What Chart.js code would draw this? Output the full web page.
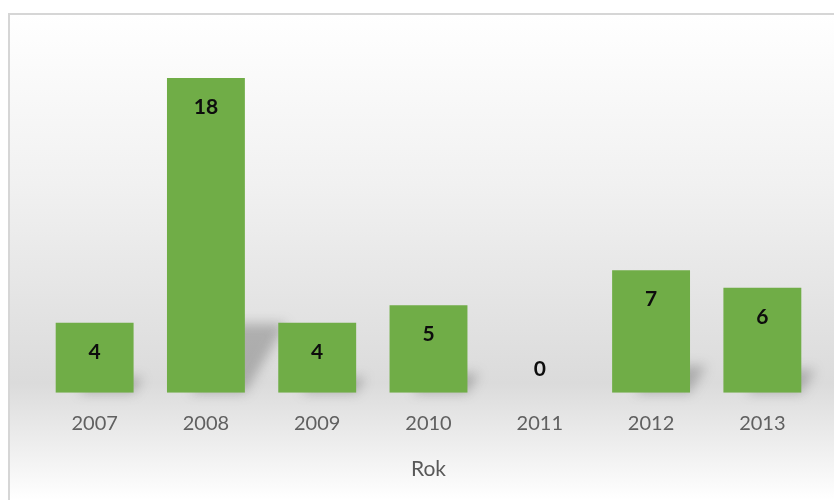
<!DOCTYPE html>
<html>
<head>
<meta charset="utf-8">
<script src="https://cdn.jsdelivr.net/npm/chart.js@4"></script>
<style>
  html, body { margin: 0; padding: 0; background: #fff; overflow: hidden; }
  #wrap { position: relative; width: 834px; height: 500px; }
</style>
</head>
<body>
<div id="wrap"><canvas id="chart"></canvas></div>
<script>
// Data
const years = ['2007', '2008', '2009', '2010', '2011', '2012', '2013'];
const counts = [4, 18, 4, 5, 0, 7, 6];
const axisTitle = 'Rok';

const FONT = 'Lato, "Open Sans", sans-serif';

// Grey gradient backdrop with the light frame at top / left
const backdrop = {
    id: 'backdrop',
    beforeDraw(chart) {
        const ctx = chart.ctx;
        const w = chart.width, h = chart.height;
        ctx.save();
        ctx.fillStyle = '#ffffff';
        ctx.fillRect(0, 0, w, h);
        const g = ctx.createLinearGradient(0, 14, 0, h);
        g.addColorStop(0, '#ffffff');
        g.addColorStop(0.35, '#f1f1f1');
        g.addColorStop(0.76, '#dbdbdb');
        g.addColorStop(1, '#ffffff');
        ctx.fillStyle = g;
        ctx.fillRect(9, 14, w - 9, h - 14);
        ctx.fillStyle = '#d6d6d6';
        ctx.fillRect(8, 13, w - 8, 2);
        ctx.fillRect(8, 13, 2, h - 13);
        ctx.restore();
    }
};

// soft floor shadow behind each bar, falling up and to the right
const barShadows = {
    id: 'barShadows',
    beforeDatasetsDraw(chart) {
        const ctx = chart.ctx;
        const meta = chart.getDatasetMeta(0);
        ctx.save();
        ctx.filter = 'blur(6px)';
        ctx.fillStyle = 'rgba(80,80,80,0.35)';
        meta.data.forEach((bar) => {
            const hgt = bar.base - bar.y;
            if (hgt <= 0) return;
            const left = bar.x - bar.width / 2, right = bar.x + bar.width / 2;
            const len = Math.min(hgt * 0.22, 70);
            ctx.beginPath();
            ctx.moveTo(left + bar.width * 0.3, bar.base);
            ctx.lineTo(right, bar.base);
            ctx.lineTo(right + len * 0.6, bar.base - len);
            ctx.lineTo(left + bar.width * 0.3 + len * 0.6, bar.base - len);
            ctx.closePath();
            ctx.fill();
        });
        ctx.restore();
    }
};

// Value labels just inside the top of each bar
const valueLabels = {
    id: 'valueLabels',
    afterDatasetsDraw(chart) {
        const ctx = chart.ctx;
        const meta = chart.getDatasetMeta(0);
        ctx.save();
        ctx.font = 'bold 21px ' + FONT;
        ctx.fillStyle = '#0d0d0d';
        ctx.textAlign = 'center';
        ctx.textBaseline = 'middle';
        meta.data.forEach((bar, i) => {
            const v = counts[i];
            const y = v === 0 ? bar.base - 24 : bar.y + 29;
            ctx.fillText(String(v), bar.x, y);
        });
        ctx.restore();
    }
};

new Chart(document.getElementById('chart'), {
    type: 'bar',
    data: {
        labels: years,
        datasets: [{
            data: counts,
            backgroundColor: '#70ad47',
            borderWidth: 0,
            barPercentage: 0.7,
            categoryPercentage: 1.0
        }]
    },
    options: {
        responsive: true,
        maintainAspectRatio: false,
        animation: false,
        layout: { padding: { left: 39, right: 16, top: 43, bottom: 18 } },
        plugins: {
            legend: { display: false },
            tooltip: { enabled: false }
        },
        scales: {
            x: {
                grid: { display: false },
                border: { display: false },
                ticks: {
                    color: '#606060',
                    font: { family: FONT, size: 20 },
                    padding: 11
                },
                title: {
                    display: true,
                    text: axisTitle,
                    color: '#595959',
                    font: { family: FONT, size: 21 },
                    padding: { top: 10, bottom: 0 }
                }
            },
            y: {
                display: false,
                min: 0,
                max: 20
            }
        }
    },
    plugins: [backdrop, barShadows, valueLabels]
});
</script>
</body>
</html>
